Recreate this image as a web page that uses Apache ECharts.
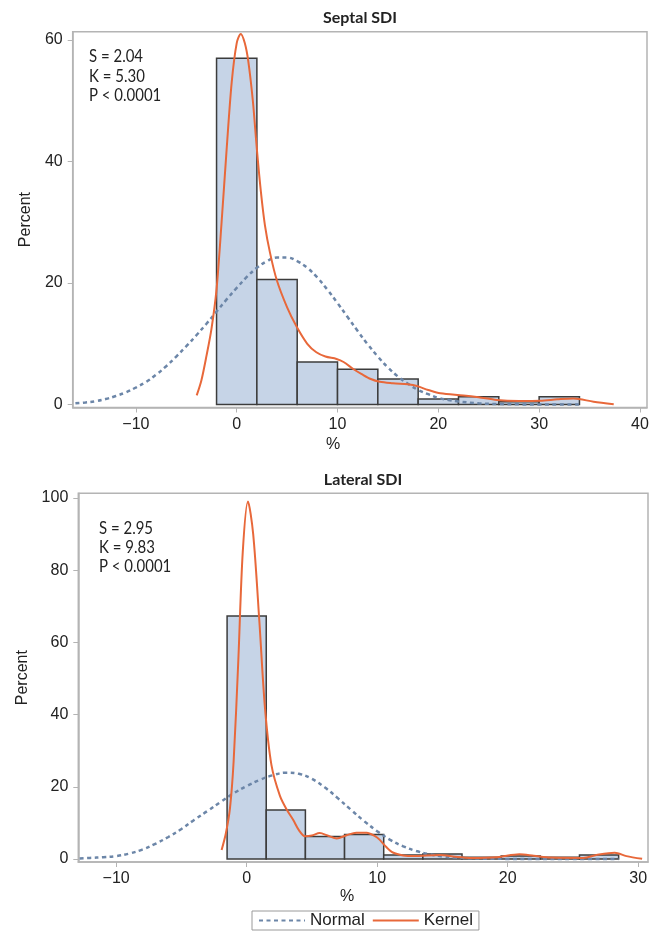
<!DOCTYPE html>
<html><head><meta charset="utf-8">
<script src="https://cdn.jsdelivr.net/npm/echarts@6/dist/echarts.min.js"></script>
<style>html,body{margin:0;padding:0;background:#fff}#c{width:667px;height:944px}</style>
</head><body><div id="c"></div>
<script>
// ---------- data ----------
const topTitle = 'Septal SDI';
const botTitle = 'Lateral SDI';
const topStats = ['S = 2.04', 'K = 5.30', 'P < 0.0001'];
const botStats = ['S = 2.95', 'K = 9.83', 'P < 0.0001'];

const topXTicks = [-10, 0, 10, 20, 30, 40];
const topYTicks = [0, 20, 40, 60];
const botXTicks = [-10, 0, 10, 20, 30];
const botYTicks = [0, 20, 40, 60, 80, 100];

// histogram bins: midpoints and percents
const topBinMid = [0, 4, 8, 12, 16, 20, 24, 28, 32];
const topBinWidth = 4;
const topBinPct = [57.0, 20.6, 7.0, 5.8, 4.2, 0.9, 1.3, 0.45, 1.3];

const botBinMid = [0, 3, 6, 9, 12, 15, 18, 21, 24, 27];
const botBinWidth = 3;
const botBinPct = [67.3, 13.6, 6.2, 6.8, 1.1, 1.4, 0.5, 0.8, 0.5, 1.1];

// curves: [x, percent]
const topNormal = [[-16,0.2],[-15,0.35],[-14,0.55],[-13,0.9],[-12,1.4],[-11,2.0],[-10,2.8],[-9,3.7],[-8,4.9],[-7,6.3],[-6,7.9],[-5,9.6],[-4,11.4],[-3,13.3],[-2,15.3],[-1,17.3],[0,19.2],[1,21.0],[2,22.5],[3,23.6],[4,24.2],[5,24.2],[6,23.6],[7,22.5],[8,20.9],[9,18.9],[10,16.7],[11,14.4],[12,12.1],[13,9.9],[14,7.9],[15,6.1],[16,4.6],[17,3.4],[18,2.4],[19,1.7],[20,1.1],[21,0.75],[22,0.5],[24,0.2],[26,0.08],[28,0.03],[30,0.01],[32,0],[34,0]];
const topKernel = [[-3.97,1.5],[-3.5,4],[-3,8],[-2.5,12.5],[-2,19],[-1.5,30],[-1,42],[-0.5,53],[0,59.5],[0.4,61],[0.8,59.5],[1.15,56.5],[1.6,50],[2,42],[2.4,35],[2.8,29.5],[3.3,25],[3.97,20.5],[5,16],[5.95,12.8],[7,10],[7.9,8.6],[8.8,7.9],[9.9,7.5],[10.6,7.0],[11.6,5.8],[12.4,5.0],[13.3,4.2],[14.2,3.75],[15.5,3.5],[17.5,3.2],[19,2.4],[20.2,1.85],[22.5,1.5],[24,1.2],[25.8,0.75],[28,0.6],[30.1,0.63],[31.8,0.85],[33.4,1.0],[35.4,0.46],[37.4,0.05]];

const botNormal = [[-12.8,0.15],[-12,0.3],[-11,0.5],[-10,0.8],[-9,1.5],[-8,2.6],[-7,4.2],[-6,6.1],[-5,8.3],[-4,10.9],[-3,13.3],[-2,15.8],[-1,18.2],[0,20.2],[1,21.9],[2,23.2],[3,23.9],[4,23.6],[5,22.2],[6,19.8],[7,16.8],[8,13.6],[9,10.5],[10,7.7],[11,5.3],[12,3.5],[13,2.2],[14,1.3],[15,0.7],[16,0.4],[18,0.1],[20,0.03],[22,0],[25,0],[28.5,0]];
const botKernel = [[-1.92,2.5],[-1.6,7],[-1.28,14],[-1.0,27],[-0.64,55],[-0.3,85],[0.1,99],[0.5,90],[0.97,66],[1.4,42],[1.9,26],[2.55,17.5],[3.1,13.5],[3.57,10.8],[4.0,8],[4.47,6.3],[5.0,6.5],[5.6,7.2],[6.2,6.5],[6.9,5.7],[7.66,6.6],[8.4,7.3],[9.2,7.3],[9.8,6.4],[10.2,5.3],[10.7,3.3],[11.2,1.8],[12.0,1.0],[12.8,0.8],[14.8,1.1],[16.0,0.6],[17.1,0.3],[19.2,0.5],[20.9,1.3],[22.0,0.9],[23.3,0.4],[25.8,0.3],[26.8,1.1],[28.2,1.75],[29.1,0.8],[30.3,0.05]];

// ---------- styles ----------
const FRAME = '#b4b4b4';
const BAR_FILL = '#c6d4e7';
const BAR_EDGE = '#3c3c3c';
const NORMAL_C = '#6c86a8';
const KERNEL_C = '#e8683a';
const TXT = '#222';
const ANNOT_FONT = 'Lato, "Noto Sans", sans-serif';
const TITLE_FONT = 'Lato, "Noto Sans", sans-serif';
const AX_FONT = '"Liberation Sans", Arial, sans-serif';

const minus = v => (v < 0 ? '\u2212' + Math.abs(v) : String(v));

function xAxis(gi, min, max, ticks) {
  return {
    type: 'value', gridIndex: gi, min: min, max: max,
    axisLine: { show: true, onZero: false, lineStyle: { color: FRAME, width: 1.5 } },
    axisTick: { show: true, length: 5, lineStyle: { color: FRAME }, customValues: ticks },
    axisLabel: { customValues: ticks, formatter: minus, color: TXT, fontSize: 16, fontFamily: AX_FONT, margin: 9 },
    splitLine: { show: false }
  };
}
function yAxis(gi, min, max, ticks, gap) {
  return {
    type: 'value', gridIndex: gi, min: min, max: max,
    name: 'Percent', nameLocation: 'middle', nameGap: gap, nameRotate: 90,
    nameTextStyle: { color: TXT, fontSize: 16, fontFamily: AX_FONT },
    axisLine: { show: true, onZero: false, lineStyle: { color: FRAME, width: 1.5 } },
    axisTick: { show: true, length: 5, lineStyle: { color: FRAME }, customValues: ticks },
    axisLabel: { customValues: ticks, color: TXT, fontSize: 16, fontFamily: AX_FONT, margin: 10 },
    splitLine: { show: false }
  };
}

function histSeries(gi, mids, width, pct) {
  return {
    type: 'custom', xAxisIndex: gi, yAxisIndex: gi, z: 1,
    data: mids.map((m, i) => [m - width / 2, m + width / 2, pct[i]]),
    renderItem: function (params, api) {
      const p0 = api.coord([api.value(0), 0]);
      const p1 = api.coord([api.value(1), api.value(2)]);
      return {
        type: 'rect',
        shape: { x: p0[0], y: p1[1], width: p1[0] - p0[0], height: p0[1] - p1[1] },
        style: { fill: BAR_FILL, stroke: BAR_EDGE, lineWidth: 1.5 }
      };
    },
    encode: { x: [0, 1], y: 2 },
    silent: true
  };
}
function normalSeries(gi, data) {
  return {
    name: 'Normal', type: 'line', xAxisIndex: gi, yAxisIndex: gi, z: 3,
    data: data, smooth: 0.4, showSymbol: false, symbol: 'none',
    lineStyle: { color: NORMAL_C, width: 2.5, type: [4, 3.5] },
    itemStyle: { color: NORMAL_C }, silent: true
  };
}
function kernelSeries(gi, data) {
  return {
    name: 'Kernel', type: 'line', xAxisIndex: gi, yAxisIndex: gi, z: 4,
    data: data, smooth: 0.3, showSymbol: false, symbol: 'none',
    lineStyle: { color: KERNEL_C, width: 2 },
    itemStyle: { color: KERNEL_C }, silent: true
  };
}

function statsText(lines, x, y0, dy) {
  return lines.map((t, i) => ({
    type: 'text', x: x, y: y0 + i * dy, scaleX: 0.88,
    style: { text: t, font: '17px ' + ANNOT_FONT, fill: TXT, textVerticalAlign: 'middle' }
  }));
}

const chart = echarts.init(document.getElementById('c'), null, { renderer: 'canvas' });
chart.setOption({
  animation: false,
  backgroundColor: '#fff',
  grid: [
    { left: 72.7, top: 31.7, width: 574.3, height: 375.8, show: true, borderColor: FRAME, borderWidth: 1.5 },
    { left: 78.3, top: 493.3, width: 569.7, height: 368.7, show: true, borderColor: FRAME, borderWidth: 1.5 }
  ],
  xAxis: [xAxis(0, -16.27, 40.7, topXTicks), xAxis(1, -12.9, 30.75, botXTicks)],
  yAxis: [yAxis(0, -0.49, 61.37, topYTicks, 39), yAxis(1, -0.83, 101.3, botYTicks, 43)],
  legend: {
    data: ['Normal', 'Kernel'],
    left: 252, top: 911, padding: [1, 6, 1, 6], itemGap: 7, itemWidth: 46, itemHeight: 14,
    borderColor: '#9a9a9a', borderWidth: 1,
    itemStyle: { opacity: 0 },
    textStyle: { color: TXT, fontSize: 17, fontFamily: AX_FONT }
  },
  graphic: [
    { type: 'text', x: 360, y: 18, style: { text: topTitle, font: 'bold 16px ' + TITLE_FONT, fill: TXT, textAlign: 'center', textVerticalAlign: 'middle' } },
    { type: 'text', x: 363, y: 480, style: { text: botTitle, font: 'bold 16px ' + TITLE_FONT, fill: TXT, textAlign: 'center', textVerticalAlign: 'middle' } },
    { type: 'text', x: 333, y: 445, style: { text: '%', font: '16px ' + AX_FONT, fill: TXT, textAlign: 'center', textVerticalAlign: 'middle' } },
    { type: 'text', x: 347, y: 897, style: { text: '%', font: '16px ' + AX_FONT, fill: TXT, textAlign: 'center', textVerticalAlign: 'middle' } }
  ].concat(statsText(topStats, 89, 57, 19.5), statsText(botStats, 99, 529, 19)),
  series: [
    histSeries(0, topBinMid, topBinWidth, topBinPct),
    normalSeries(0, topNormal),
    kernelSeries(0, topKernel),
    histSeries(1, botBinMid, botBinWidth, botBinPct),
    normalSeries(1, botNormal),
    kernelSeries(1, botKernel)
  ]
});
</script></body></html>
